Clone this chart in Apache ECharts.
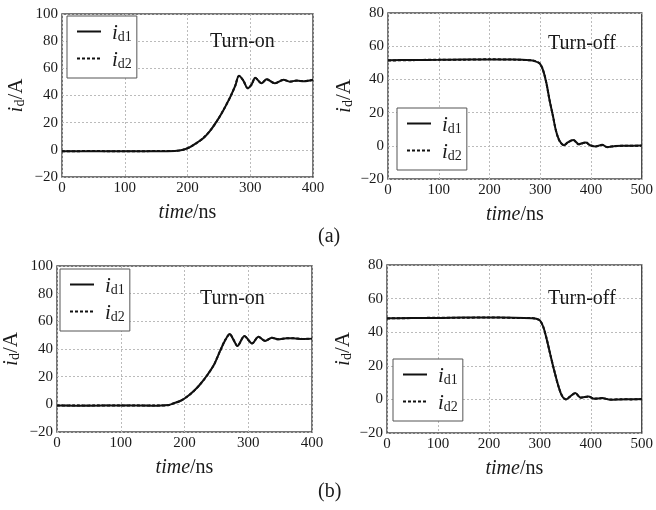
<!DOCTYPE html>
<html>
<head>
<meta charset="utf-8">
<script src="https://cdn.jsdelivr.net/npm/echarts@6/dist/echarts.min.js"></script>
<style>
html,body{margin:0;padding:0;background:#fff;}
#c{width:656px;height:510px;}
</style>
</head>
<body>
<div id="c"></div>
<script>
// ---- Data ----
// (a) Turn-on
var tAOn  = [0, 50, 100, 150, 180, 193, 204, 214, 225, 236, 246, 257, 268, 276, 282, 289, 296, 302, 308, 318, 326, 339, 353, 363, 374, 385, 400];
var aOnD1 = [-1, -1, -1, -1, -0.8, 0, 2, 4.9, 8.5, 14, 20.6, 29, 38.8, 47, 54.5, 51, 45.3, 48, 53, 49, 52, 49, 51.6, 50.2, 51, 50.5, 51.6];
var aOnD2 = [-1.1, -0.9, -1.1, -0.9, -0.8, 0.1, 2.1, 4.8, 8.6, 14.1, 20.5, 29.1, 38.7, 47.1, 54.4, 51.1, 45.4, 47.9, 52.9, 49.1, 51.9, 49.1, 51.5, 50.3, 50.9, 50.6, 51.5];
// (a) Turn-off
var tAOff  = [0, 50, 100, 150, 200, 250, 280, 289, 299, 305, 312, 318, 325, 331, 338, 347, 354, 365, 376, 390, 398, 409, 422, 432, 445, 471, 500];
var aOffD1 = [51.5, 51.7, 51.8, 52, 52, 52, 51.6, 51, 49.6, 46, 38, 28, 18, 9, 3, 0.3, 2, 3.5, 1, 2, 0.4, -0.4, 0.6, -0.8, -0.2, 0, 0.2];
var aOffD2 = [51.4, 51.6, 51.9, 51.9, 52.1, 51.9, 51.5, 51.1, 49.5, 46.1, 37.9, 28.1, 17.9, 9.1, 2.9, 0.4, 1.9, 3.6, 0.9, 2.1, 0.3, -0.3, 0.5, -0.7, -0.3, 0.1, 0.1];
// (b) Turn-on
var tBOn  = [0, 50, 100, 150, 175, 183, 194, 204, 214.5, 225, 235.5, 246, 256, 264, 271, 277, 283, 294, 306, 316, 326.5, 337, 347, 360, 371, 385, 400];
var bOnD1 = [-0.8, -1, -0.8, -1, -0.5, 0.7, 2.6, 5.5, 9.6, 14.7, 21, 28.4, 38.8, 46.5, 50.8, 46.5, 42.2, 49.4, 44, 48.9, 45.8, 48.2, 47, 47.8, 47.7, 47.2, 47.5];
var bOnD2 = [-0.9, -0.9, -0.9, -0.9, -0.6, 0.8, 2.5, 5.6, 9.5, 14.8, 20.9, 28.5, 38.7, 46.6, 50.7, 46.6, 42.3, 49.3, 44.1, 48.8, 45.9, 48.1, 47.1, 47.7, 47.8, 47.3, 47.4];
// (b) Turn-off
var tBOff  = [0, 50, 100, 150, 200, 250, 285, 293, 300, 306.5, 313, 320, 328, 336, 343, 351, 358, 369.5, 380.5, 395.5, 406.5, 422.5, 438.5, 458, 480, 500];
var bOffD1 = [48.3, 48.5, 48.5, 48.7, 48.7, 48.6, 48.3, 48, 47, 43.4, 36.4, 27.4, 17.4, 8.4, 2.4, 0, 1.4, 3.8, 1, 1.8, 0.4, 0.8, -0.2, 0, 0.1, 0.2];
var bOffD2 = [48.2, 48.4, 48.6, 48.6, 48.8, 48.5, 48.4, 47.9, 47.1, 43.3, 36.5, 27.3, 17.5, 8.3, 2.5, 0.1, 1.3, 3.7, 1.1, 1.7, 0.5, 0.7, -0.1, 0.1, 0, 0.1];

var xTicks = {on: [0, 400, 100], off: [0, 500, 100]};
var yTicks = {on: [-20, 100, 20], off: [-20, 80, 20]};
var captions = ['(a)', '(b)'];
var panelTitles = ['Turn-on', 'Turn-off', 'Turn-on', 'Turn-off'];

// ---- Chart ----
var FONT = '"Liberation Serif", "Times New Roman", serif';
var TXT = '#1a1a1a';

function pairs(t, v) { return t.map(function (x, i) { return [x, v[i]]; }); }

var grids = [
  {left: 62, top: 14, width: 251, height: 163},
  {left: 388, top: 13, width: 257, height: 166},
  {left: 56, top: 266, width: 256, height: 166},
  {left: 387, top: 265, width: 258, height: 168}
];
var kinds = ['on', 'off', 'on', 'off'];
var yNameGap = [35, 33, 35, 33];

var xAxes = [], yAxes = [], series = [], legends = [];
grids.forEach(function (g, i) {
  g.show = true; g.borderColor = '#4a4a4a'; g.borderWidth = 1.5; g.containLabel = false;
  var xr = xTicks[kinds[i]], yr = yTicks[kinds[i]];
  xAxes.push({
    type: 'value', gridIndex: i, min: xr[0], max: xr[1], interval: xr[2],
    axisLine: {show: false}, axisTick: {show: false},
    axisLabel: {fontFamily: FONT, fontSize: 15, color: TXT, margin: 4},
    splitLine: {show: true, lineStyle: {color: '#bbbbbb', type: [2, 2], width: 1}},
    name: '{it|time}{n|/ns}', nameLocation: 'middle', nameGap: 26,
    nameTextStyle: {rich: {
      it: {fontFamily: FONT, fontStyle: 'italic', fontSize: 20, color: TXT},
      n: {fontFamily: FONT, fontSize: 20, color: TXT}
    }}
  });
  yAxes.push({
    type: 'value', gridIndex: i, min: yr[0], max: yr[1], interval: yr[2],
    axisLine: {show: false}, axisTick: {show: false},
    axisLabel: {fontFamily: FONT, fontSize: 15, color: TXT, margin: 4,
      formatter: function (v) { return v < 0 ? '\u2212' + Math.abs(v) : String(v); }},
    splitLine: {show: true, lineStyle: {color: '#bbbbbb', type: [2, 2], width: 1}},
    name: '{i|i}{s|d}{n|/A}', nameLocation: 'middle', nameGap: yNameGap[i],
    nameTextStyle: {rich: {
      i: {fontFamily: FONT, fontStyle: 'italic', fontSize: 21, color: TXT, verticalAlign: 'bottom', lineHeight: 24},
      s: {fontFamily: FONT, fontSize: 14, color: TXT, verticalAlign: 'bottom', lineHeight: 18},
      n: {fontFamily: FONT, fontSize: 21, color: TXT, verticalAlign: 'bottom', lineHeight: 24}
    }}
  });
});

var datasets = [[tAOn, aOnD1, aOnD2], [tAOff, aOffD1, aOffD2], [tBOn, bOnD1, bOnD2], [tBOff, bOffD1, bOffD2]];
datasets.forEach(function (d, i) {
  series.push({
    type: 'line', name: 'id1', xAxisIndex: i, yAxisIndex: i, data: pairs(d[0], d[1]),
    symbol: 'none', smooth: 0.3,
    lineStyle: {color: '#111', width: 2}, itemStyle: {color: '#111'}, z: 3
  });
  series.push({
    type: 'line', name: 'id2', xAxisIndex: i, yAxisIndex: i, data: pairs(d[0], d[2]),
    symbol: 'none', smooth: 0.3,
    lineStyle: {color: '#111', width: 2, type: [3, 2]}, itemStyle: {color: '#111'}, z: 4
  });
});

var legendPos = [
  {left: 67, top: 16},
  {left: 397, top: 108},
  {left: 60, top: 269},
  {left: 393, top: 359}
];
legendPos.forEach(function (p) {
  legends.push({
    left: p.left, top: p.top, orient: 'vertical', data: ['id1', 'id2'],
    selectedMode: false, itemWidth: 24, itemHeight: 12, itemGap: 6,
    itemStyle: {opacity: 0, borderWidth: 0},
    borderColor: '#555', borderWidth: 1, borderRadius: 0, padding: [7, 5, 7, 9],
    backgroundColor: '#fff',
    formatter: function (n) { return n === 'id1' ? '{i|i}{s|d1}' : '{i|i}{s|d2}'; },
    textStyle: {rich: {
      i: {fontFamily: FONT, fontStyle: 'italic', fontSize: 21, color: TXT, verticalAlign: 'bottom', lineHeight: 25, padding: [0, 0, 0, 6]},
      s: {fontFamily: FONT, fontSize: 14, color: TXT, verticalAlign: 'bottom', lineHeight: 20}
    }}
  });
});

var graphics = [];
var titlePos = [[210, 43], [548, 45], [200, 300], [548, 300]];
panelTitles.forEach(function (t, i) {
  graphics.push({type: 'text', left: titlePos[i][0], top: titlePos[i][1] - 11, z: 10,
    style: {text: t, font: '20px ' + FONT, fill: TXT}});
});
var capY = [238, 493];
captions.forEach(function (c, i) {
  graphics.push({type: 'text', left: 318, top: capY[i] - 11, z: 10,
    style: {text: c, font: '20px ' + FONT, fill: TXT}});
});

var chart = echarts.init(document.getElementById('c'), null, {renderer: 'canvas'});
chart.setOption({
  animation: false,
  backgroundColor: '#fff',
  grid: grids,
  xAxis: xAxes,
  yAxis: yAxes,
  legend: legends,
  series: series,
  graphic: graphics
});
</script>
</body>
</html>
